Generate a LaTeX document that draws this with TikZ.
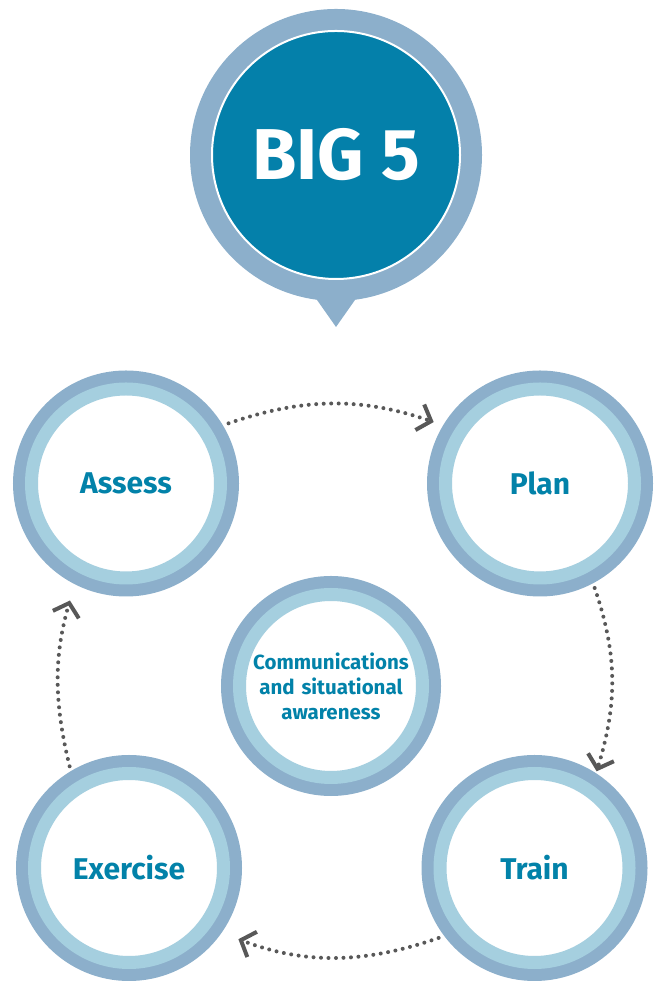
\documentclass[tikz,border=0pt]{standalone}
\usepackage{fontspec}
\setmainfont{Fira Sans}
\usepackage{tikz}
\usetikzlibrary{arrows.meta}
\usetikzlibrary{positioning}
\definecolor{ringdark}{RGB}{140,175,203}
\definecolor{ringlight}{RGB}{165,207,223}
\definecolor{bigblue}{RGB}{4,128,170}
\definecolor{labelteal}{RGB}{2,130,169}
\definecolor{dotgray}{RGB}{88,88,88}
\newcommand\ringwd{13pt}
\newcommand\outerwd{37pt}
\newcommand\dotwd{4pt}
\tikzset{>={Straight Barb[length=12pt,width=27pt,line width=4pt]}}
\newcommand\cycleedge[5]{\draw[cycle edge,shorten <=#3,shorten >=#4] (#1) to[bend left=#5] (#2);}
\tikzstyle{ringed}     = [circle, inner sep=0pt, outer sep=18.5pt, minimum size=189pt,
 fill=white, draw=ringlight, line width=\ringwd, preaction={draw=ringdark, line width=\outerwd},
 text=labelteal, font=\bfseries\fontsize{30}{36}\selectfont]
\tikzstyle{bigbubble}  = [circle, inner sep=0pt, outer sep=0pt, minimum size=248pt,
 fill=bigblue, draw=white, line width=2pt, preaction={draw=ringdark, line width=44pt},
 text=white, font=\bfseries\fontsize{72}{80}\selectfont]
\tikzstyle{cycle edge} = [->, color=dotgray, line width=\dotwd, line cap=round, dash pattern=on 0pt off 7.5pt]

\begin{document}
\begin{tikzpicture}[x=1pt,y=1pt]
  \useasboundingbox (0,0) rectangle (657,981);
  % speech bubble
  \node[bigbubble] (big) at (336,826) {BIG 5};
  \fill[ringdark] ([shift={(0,-48)}]big.south) -- ([shift={(-26,-11)}]big.south)
    -- ([shift={(26,-11)}]big.south) -- cycle;
  % the five rings
  \node[ringed] (assess)   at (126,497.5) {Assess};
  \node[ringed] (plan)     at (540,497.5) {Plan};
  \node[ringed] (train)    at (534.5,113) {Train};
  \node[ringed] (exercise) at (129,113)   {Exercise};
  \node[ringed, minimum size=183pt, text width=160pt, align=center,
        font=\bfseries\fontsize{20.5}{25}\selectfont] (comms) at (331,295)
    {Communications\\and situational\\awareness};
  % dotted cycle
  \cycleedge{assess.31}{plan.149}{6pt}{10pt}{19}
  \cycleedge{plan.-62}{train.57}{5pt}{2pt}{18}
  \cycleedge{train.-143}{exercise.-35}{6pt}{18pt}{20}
  \cycleedge{exercise.121}{assess.-117}{5pt}{17pt}{15}
\end{tikzpicture}
\end{document}
